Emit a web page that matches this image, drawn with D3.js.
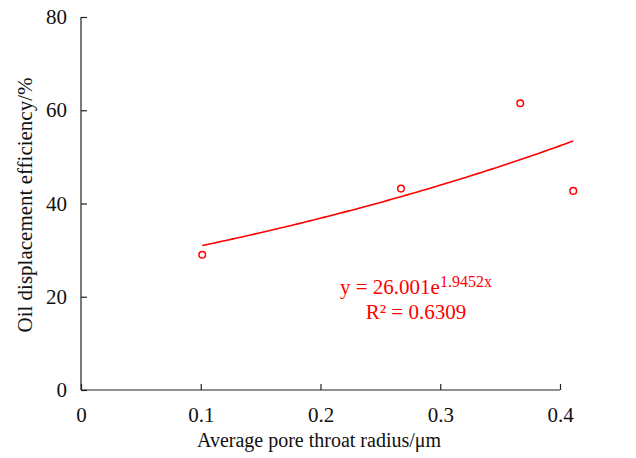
<!DOCTYPE html>
<html lang="en">
<head>
<meta charset="UTF-8">
<title>Oil displacement efficiency</title>
<script src="https://cdn.jsdelivr.net/npm/d3@7"></script>
<style>
  body { margin: 0; background: #fff; }
  text { font-family: "Liberation Serif", "Times New Roman", serif; }
</style>
</head>
<body>
<div id="chart"></div>
<script>
// measured points
var radius = [0.09, 0.24, 0.33, 0.37];
var efficiency = [29.0, 43.2, 61.5, 42.7];
var xTicks = [0, 0.1, 0.2, 0.3, 0.4];
var yTicks = [0, 20, 40, 60, 80];
// exponential trendline y = a*e^(b*x)
var fitA = 26.001;
var fitB = 1.9452;

var width = 636, height = 458;

var svg = d3.select("#chart").append("svg")
    .attr("width", width)
    .attr("height", height);

// axis scale (tick positions as drawn)
var x = d3.scaleLinear().domain([0, 0.4]).range([81, 560]);
// the plotted series sits on a slightly wider span than the tick labels in the source
var xData = d3.scaleLinear().domain([0, 0.4]).range([83, 613]);
var y = d3.scaleLinear().domain([0, 80]).range([390, 17]);

// axes
var xAxis = d3.axisBottom(x).tickValues(xTicks).tickSize(-6).tickPadding(17)
    .tickFormat(function(d) { return d === 0 ? "0" : d3.format(".1f")(d); });
var yAxis = d3.axisLeft(y).tickValues(yTicks).tickSize(-6).tickPadding(14);

var gx = svg.append("g").attr("transform", "translate(0," + y(0) + ")").call(xAxis);
var gy = svg.append("g").attr("transform", "translate(" + x(0) + ",0)").call(yAxis);

[gx, gy].forEach(function(g) {
  g.select(".domain").attr("stroke", "#222").attr("stroke-width", 1.2);
  g.selectAll(".tick line").attr("stroke", "#222").attr("stroke-width", 1.2);
  g.selectAll(".tick text").attr("fill", "#111")
    .style("font-family", "Liberation Serif").style("font-size", "21px");
});
// make the domain paths plain lines (no outer ticks)
gx.select(".domain").attr("d", "M" + x(0) + ",0H" + x(0.4));
gy.select(".domain").attr("d", "M0," + y(0) + "V" + y(80));

// axis titles
svg.append("text")
    .attr("x", 319).attr("y", 447)
    .attr("text-anchor", "middle")
    .style("font-size", "20px")
    .attr("fill", "#111")
    .text("Average pore throat radius/\u03bcm");

svg.append("text")
    .attr("transform", "translate(32,205) rotate(-90)")
    .attr("text-anchor", "middle")
    .style("font-size", "21px")
    .attr("fill", "#111")
    .text("Oil displacement efficiency/%");

// trendline over the data range
var fitX = d3.range(0, 101).map(function(i) {
  return d3.min(radius) + (d3.max(radius) - d3.min(radius)) * i / 100;
});
var line = d3.line()
    .x(function(d) { return xData(d); })
    .y(function(d) { return y(fitA * Math.exp(fitB * d)); });

svg.append("path")
    .datum(fitX)
    .attr("d", line)
    .attr("fill", "none")
    .attr("stroke", "#ff0000")
    .attr("stroke-width", 1.6);

// points
svg.selectAll(".pt")
    .data(radius)
    .enter().append("circle")
    .attr("class", "pt")
    .attr("cx", function(d) { return xData(d); })
    .attr("cy", function(d, i) { return y(efficiency[i]); })
    .attr("r", 3.3)
    .attr("fill", "#fff")
    .attr("stroke", "#ff0000")
    .attr("stroke-width", 1.5);

// equation
var eq = svg.append("text")
    .attr("x", 416).attr("y", 294)
    .attr("text-anchor", "middle")
    .attr("fill", "#ff0000")
    .style("font-size", "21px");
eq.append("tspan").text("y = " + fitA.toFixed(3) + "e");
eq.append("tspan").attr("dy", -7).style("font-size", "16px").text(fitB.toFixed(4) + "x");

svg.append("text")
    .attr("x", 416).attr("y", 319)
    .attr("text-anchor", "middle")
    .attr("fill", "#ff0000")
    .style("font-size", "21px")
    .text("R\u00b2 = 0.6309");
</script>
</body>
</html>
